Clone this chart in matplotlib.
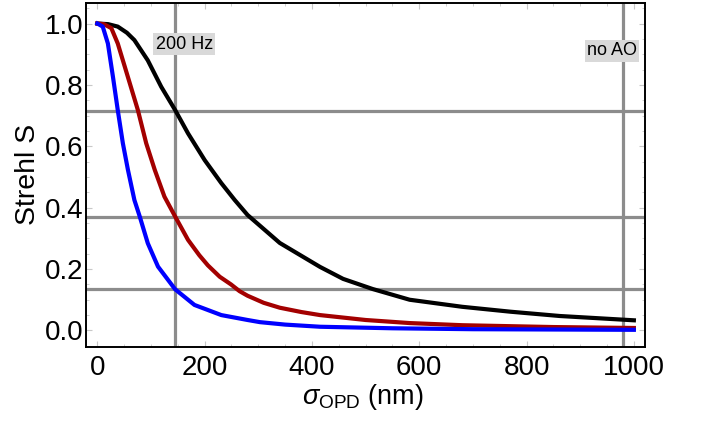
import numpy as np
import matplotlib.pyplot as plt
from matplotlib.ticker import MultipleLocator

plt.rcParams['font.family'] = ['Liberation Sans', 'DejaVu Sans']
plt.rcParams['mathtext.fontset'] = 'custom'
plt.rcParams['mathtext.it'] = 'Liberation Sans:italic'
plt.rcParams['mathtext.rm'] = 'Liberation Sans'

# odczytane punkty krzywych (sigma_OPD w nm, Strehl)
sig_black = [0, 20, 38, 55, 69, 94, 119, 145, 169, 200, 231, 256, 280, 340, 415, 458, 513,
             582, 680, 770, 862, 1000]
s_black = [1.0, 0.998, 0.99, 0.97, 0.946, 0.88, 0.794, 0.718, 0.642, 0.555, 0.48, 0.425, 0.376,
           0.285, 0.207, 0.168, 0.135, 0.1, 0.077, 0.061, 0.047, 0.033]

sig_red = [0, 12, 26, 38, 51, 66, 75.5, 91, 107, 125, 145, 169, 190, 206, 228, 249, 265, 280,
           310, 340, 380, 415, 500, 582, 680, 850, 1000]
s_red = [1.0, 0.998, 0.985, 0.935, 0.86, 0.773, 0.718, 0.61, 0.523, 0.436, 0.371, 0.295, 0.245,
         0.212, 0.175, 0.15, 0.128, 0.113, 0.09, 0.074, 0.06, 0.05, 0.034, 0.024, 0.017, 0.011, 0.008]

sig_blue = [0, 10, 19.6, 29, 38, 47.5, 57, 69, 79, 94, 113, 145, 181, 231, 280, 303, 350, 415,
            550, 700, 1000]
s_blue = [1.0, 0.99, 0.935, 0.827, 0.718, 0.61, 0.523, 0.425, 0.371, 0.284, 0.208, 0.134, 0.083,
          0.05, 0.034, 0.027, 0.019, 0.012, 0.007, 0.004, 0.002]

# linie siatki
vlines = [145, 979]
hlines = [0.7165, 0.368, 0.135]

fig = plt.figure(figsize=(7.04, 4.24), dpi=100)
ax = fig.add_axes([0.122, 0.1816, 0.794, 0.8114])

for v in vlines:
    ax.axvline(v, color='#8c8c8c', linewidth=2.3, zorder=1)
for h in hlines:
    ax.axhline(h, color='#8c8c8c', linewidth=2.3, zorder=1)

ax.plot(sig_black, s_black, color='black', linewidth=3, solid_joinstyle='round', zorder=3)
ax.plot(sig_red, s_red, color='#a30000', linewidth=3, solid_joinstyle='round', zorder=3)
ax.plot(sig_blue, s_blue, color='#0000ff', linewidth=3, solid_joinstyle='round', zorder=4)

ax.text(162, 0.933, '200 Hz', fontsize=13, ha='center', va='center',
        bbox=dict(facecolor='#d9d9d9', edgecolor='none', pad=1.5), zorder=5)
ax.text(959, 0.911, 'no AO', fontsize=13, ha='center', va='center',
        bbox=dict(facecolor='#d9d9d9', edgecolor='none', pad=1.5), zorder=5)

ax.set_xlim(-21.4, 1020.5)
ax.set_ylim(-0.054, 1.067)
ax.set_xticks([0, 200, 400, 600, 800, 1000])
ax.set_yticks([0.0, 0.2, 0.4, 0.6, 0.8, 1.0])
ax.set_yticklabels(['0.0', '0.2', '0.4', '0.6', '0.8', '1.0'])
ax.xaxis.set_minor_locator(MultipleLocator(50))
ax.yaxis.set_minor_locator(MultipleLocator(0.05))
ax.tick_params(which='both', direction='in', top=True, right=True, color='#c8c8c8')
ax.tick_params(which='major', length=4, width=0.8, labelsize=20)
ax.tick_params(axis='x', which='major', pad=6)
ax.tick_params(axis='y', which='major', pad=2)
ax.tick_params(which='minor', length=2, width=0.6)

for sp in ax.spines.values():
    sp.set_linewidth(1.4)

ax.set_xlabel(r'$\mathit{\sigma}_{\mathrm{OPD}}$ (nm)', fontsize=19.5, va='center')
ax.set_ylabel('Strehl S', fontsize=20.5, va='center')
ax.xaxis.set_label_coords(0.495, -0.145)
ax.yaxis.set_label_coords(-0.103, 0.503)

plt.savefig('out.png', dpi=100)
